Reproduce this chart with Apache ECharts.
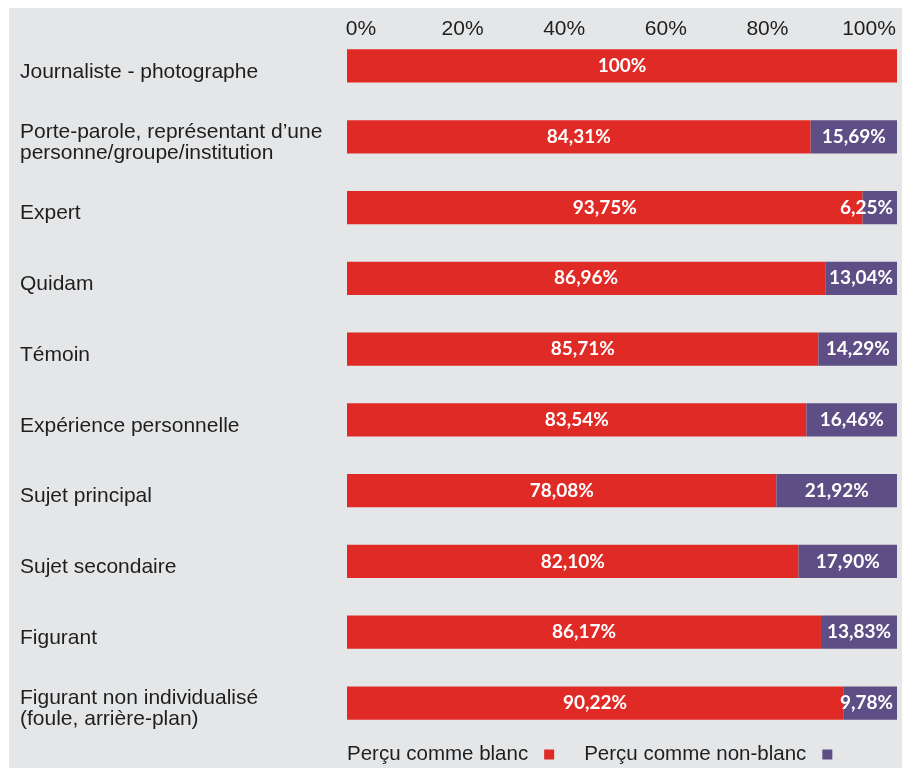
<!DOCTYPE html>
<html><head><meta charset="utf-8">
<script src="https://cdn.jsdelivr.net/npm/echarts@6/dist/echarts.min.js"></script>
<style>html,body{margin:0;padding:0;background:#fff}#c{width:902px;height:768px}</style>
</head><body><div id="c"></div>
<script>
const categories = [
  "Journaliste - photographe",
  "Porte-parole, représentant d’une\npersonne/groupe/institution",
  "Expert",
  "Quidam",
  "Témoin",
  "Expérience personnelle",
  "Sujet principal",
  "Sujet secondaire",
  "Figurant",
  "Figurant non individualisé\n(foule, arrière-plan)"
];
const blanc = [100, 84.31, 93.75, 86.96, 85.71, 83.54, 78.08, 82.10, 86.17, 90.22];
const nonBlanc = [0, 15.69, 6.25, 13.04, 14.29, 16.46, 21.92, 17.90, 13.83, 9.78];
const tickLabels = ["0%", "20%", "40%", "60%", "80%", "100%"];
const seriesNames = ["Perçu comme blanc", "Perçu comme non-blanc"];

const RED = "#e02a26", PURPLE = "#5e4e86", TXT = "#1e1e1e";
const fmt = v => (v === 100 ? "100" : v.toFixed(2).replace(".", ",")) + "%";
const labelFont = {color: "#fff", fontFamily: "Lato", fontWeight: "bold", fontSize: 19};

const chart = echarts.init(document.getElementById("c"), null, {renderer: "canvas"});
chart.setOption({
  animation: false,
  graphic: [{type: "rect", z: -10, shape: {x: 9, y: 8, width: 893, height: 760}, style: {fill: "#e5e6e8"}}],
  grid: [
    {left: 347, right: 5, top: 30.6, bottom: 29.6},
    {left: 361, right: 33, top: 49, height: 1},
    {left: 347, right: 5, top: 36.6, bottom: 23.6}
  ],
  xAxis: [
    {gridIndex: 0, type: "value", min: 0, max: 100, show: false},
    {gridIndex: 1, type: "category", data: tickLabels, position: "top", boundaryGap: false,
     axisLine: {show: false}, axisTick: {show: false}, splitLine: {show: false},
     axisLabel: {margin: 9, color: TXT, fontFamily: "Liberation Sans", fontSize: 21}},
    {gridIndex: 2, type: "value", min: 0, max: 100, show: false}
  ],
  yAxis: [
    {gridIndex: 0, type: "category", data: categories, inverse: true, show: false},
    {gridIndex: 1, type: "value", show: false},
    {gridIndex: 2, type: "category", data: categories, inverse: true,
     axisLine: {show: false}, axisTick: {show: false}, splitLine: {show: false},
     axisLabel: {align: "left", margin: 327, color: TXT, fontFamily: "Liberation Sans", fontSize: 21, lineHeight: 21}}
  ],
  legend: {
    left: 342, top: 739, align: "right", itemGap: 30, itemWidth: 10, itemHeight: 10, icon: "rect",
    textStyle: {color: TXT, fontFamily: "Liberation Sans", fontSize: 20.5, padding: [0, 11, 0, 0]},
    data: seriesNames
  },
  series: [
    {name: seriesNames[0], type: "bar", stack: "s", barCategoryGap: "53%", itemStyle: {color: RED},
     data: blanc.map(v => ({value: v})),
     label: {show: true, position: "inside", formatter: p => fmt(p.value), ...labelFont}},
    {name: seriesNames[1], type: "bar", stack: "s", itemStyle: {color: PURPLE},
     data: nonBlanc.map(v => ({value: v,
       label: v > 0 ? (v < 11 ? {show: true, position: "insideRight", distance: 4} : {show: true, position: "inside"}) : {show: false}})),
     label: {formatter: p => fmt(p.value), ...labelFont}}
  ]
});
</script></body></html>
